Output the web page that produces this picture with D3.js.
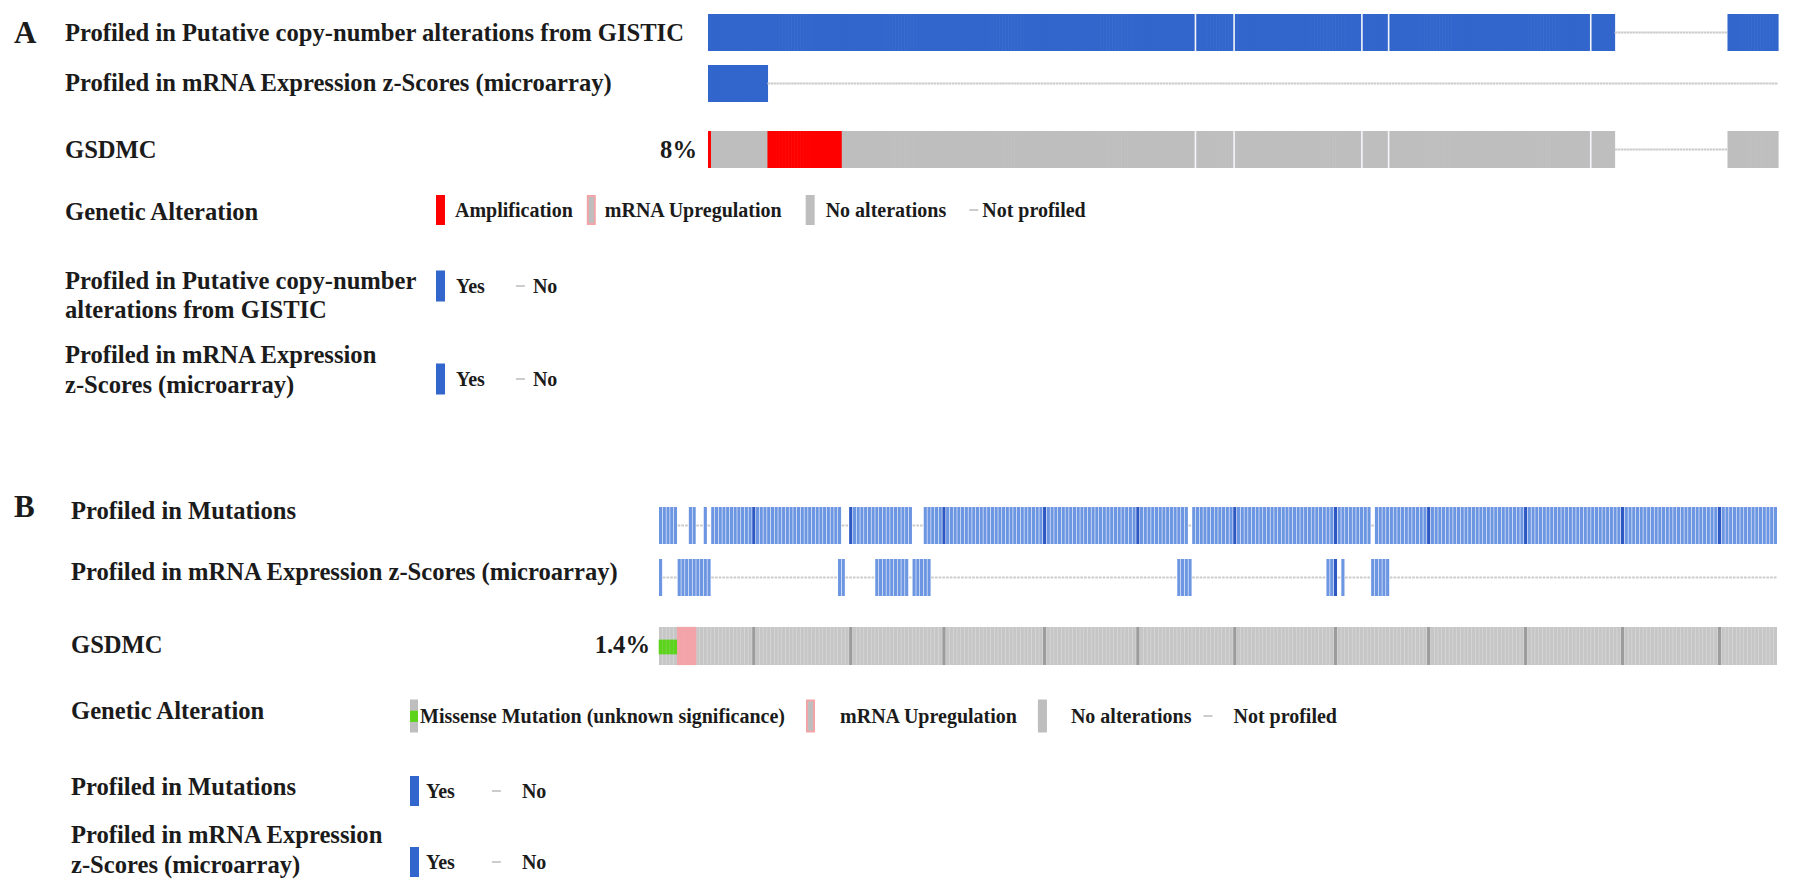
<!DOCTYPE html>
<html lang="en">
  <head>
    <meta charset="utf-8" />
    <title>GSDMC OncoPrint</title>
    <script src="https://d3js.org/d3.v7.min.js"></script>
    <style>
      body { margin: 0; background: #fff; }
      svg text {
        font-family: "Liberation Serif", "Times New Roman", serif;
        font-weight: bold;
        fill: #1b1b1b;
      }
    </style>
  </head>
  <body>
    <svg id="chart" width="1795" height="892"></svg>
    <script>
      // ---- Panel A: samples are columns, runs are inclusive [from, to] index ranges
      const samplesA = 360;
      const cnaProfiledA = [[0, 304], [343, 359]];
      const mrnaProfiledA = [[0, 19]];
      const amplifiedA = [[0, 0], [20, 44]];
      const seamsA = [164, 177, 220, 229, 297];
      const pctA = "8%";

      // ---- Panel B
      const samplesB = 300;
      const mutProfiledB = [[0, 4], [8, 9], [12, 12], [14, 48], [51, 67], [71, 141], [143, 190], [192, 299]];
      const mrnaProfiledB = [[0, 0], [5, 13], [48, 49], [58, 66], [68, 72], [139, 142], [179, 181], [183, 183], [191, 195]];
      const missenseB = [[0, 4]];
      const mrnaUpB = [[5, 9]];
      const seamsB = [25, 51, 76, 103, 128, 154, 181, 206, 232, 258, 284];
      const pctB = "1.4%";

      // ---- Labels and legends
      const gene = "GSDMC";
      const trackLabelsA = [
        "Profiled in Putative copy-number alterations from GISTIC",
        "Profiled in mRNA Expression z-Scores (microarray)",
      ];
      const trackLabelsB = [
        "Profiled in Mutations",
        "Profiled in mRNA Expression z-Scores (microarray)",
      ];
      const alterLegendA = ["Amplification", "mRNA Upregulation", "No alterations", "Not profiled"];
      const alterLegendB = ["Missense Mutation (unknown significance)", "mRNA Upregulation", "No alterations", "Not profiled"];
      const profiledLegendA = [
        ["Profiled in Putative copy-number", "alterations from GISTIC"],
        ["Profiled in mRNA Expression", "z-Scores (microarray)"],
      ];
      const profiledLegendB = [
        ["Profiled in Mutations"],
        ["Profiled in mRNA Expression", "z-Scores (microarray)"],
      ];
      const yesNo = ["Yes", "No"];

      const colors = {
        blue: "#3366cc",
        blueB: "#6d96e2",
        blueDark: "#2d58c4",
        gray: "#bebebe",
        grayB: "#c6c6c6",
        grayGap: "#dddddd",
        grayDark: "#9c9c9c",
        none: "#cccccc",
        red: "#ff0000",
        pink: "#f2a4a8",
        green: "#5cd41c",
      };

      const LABEL = 24.6;
      const LEG = 20;

      const expand = (runs) => new Set(runs.flatMap(([a, b]) => d3.range(a, b + 1)));

      const svg = d3.select("#chart");

      // draws profiled columns as full cells, unprofiled as a thin line
      function drawTrack(g, x, y, h, profiled, fill, dark, darkFill, overlap) {
        const idx = x.domain();
        g.append("g")
          .selectAll("rect")
          .data(idx.filter((i) => profiled.has(i)))
          .join("rect")
          .attr("x", (i) => x(i))
          .attr("y", y)
          .attr("width", x.bandwidth() + overlap)
          .attr("height", h)
          .attr("fill", (i) => (dark.has(i) ? darkFill : fill));
        g.append("g")
          .selectAll("rect")
          .data(idx.filter((i) => !profiled.has(i)))
          .join("rect")
          .attr("x", (i) => x(i))
          .attr("y", y + h / 2 - 1)
          .attr("width", x.bandwidth() * 0.85)
          .attr("height", 2)
          .attr("fill", colors.none);
      }

      // legend swatch painter
      function swatch(g, kind, x, yMid, h) {
        const w = 9;
        const top = yMid - h / 2;
        if (kind === "Amplification") {
          g.append("rect").attr("x", x).attr("y", top).attr("width", w).attr("height", h).attr("fill", colors.red);
        } else if (kind === "mRNA Upregulation") {
          g.append("rect").attr("x", x + 1).attr("y", top + 1).attr("width", w - 2).attr("height", h - 2)
            .attr("fill", colors.gray).attr("stroke", colors.pink).attr("stroke-width", 2);
        } else if (kind === "No alterations") {
          g.append("rect").attr("x", x).attr("y", top).attr("width", w).attr("height", h).attr("fill", colors.gray);
        } else if (kind.startsWith("Missense")) {
          g.append("rect").attr("x", x).attr("y", top).attr("width", w - 1).attr("height", h).attr("fill", colors.gray);
          g.append("rect").attr("x", x).attr("y", top + h * 0.34).attr("width", w - 1).attr("height", h * 0.34).attr("fill", colors.green);
        } else if (kind === "Yes") {
          g.append("rect").attr("x", x).attr("y", top).attr("width", w).attr("height", h).attr("fill", colors.blue);
        } else {
          g.append("rect").attr("x", x).attr("y", yMid - 1).attr("width", w).attr("height", 2).attr("fill", colors.none);
        }
        return w;
      }

      // lays out swatch + text pairs left to right; gaps are per item
      function drawLegend(g, items, x0, yMid, h, gapBar, gapText) {
        let x = x0;
        items.forEach((label, k) => {
          x += swatch(g, label, x, yMid, h) + gapBar[k];
          const t = g.append("text")
            .attr("x", x)
            .attr("y", yMid + LEG * 0.36)
            .style("font-size", LEG + "px")
            .text(label);
          x += t.node().getComputedTextLength() + (gapText[k] || 0);
        });
      }

      function label(g, lines, x, y, size, lineH, anchor) {
        const t = g.append("text")
          .attr("x", x)
          .attr("y", y)
          .attr("text-anchor", anchor || "start")
          .style("font-size", size + "px");
        lines.forEach((line, k) =>
          t.append("tspan").attr("x", x).attr("dy", k === 0 ? 0 : lineH).text(line)
        );
      }

      // ================= Panel A =================
      const gA = svg.append("g");
      const xA = d3.scaleBand().domain(d3.range(samplesA)).range([708, 1778]).padding(0);
      const rowsA = [14, 65, 131];
      const rowH = 37;

      const cnaA = expand(cnaProfiledA);
      const mrnaA = expand(mrnaProfiledA);
      const ampA = expand(amplifiedA);
      const noSeam = new Set();

      drawTrack(gA, xA, rowsA[0], rowH, cnaA, colors.blue, noSeam, colors.blue, 0.6);
      drawTrack(gA, xA, rowsA[1], rowH, mrnaA, colors.blue, noSeam, colors.blue, 0.6);
      drawTrack(gA, xA, rowsA[2], rowH, cnaA, colors.gray, ampA, colors.red, 0.6);

      // thin white seams between column blocks
      [rowsA[0], rowsA[2]].forEach((y) => {
        gA.append("g")
          .selectAll("rect")
          .data(seamsA)
          .join("rect")
          .attr("x", (i) => xA(i) - 0.8)
          .attr("y", y)
          .attr("width", 1.6)
          .attr("height", rowH)
          .attr("fill", "#f4f6fb");
      });

      label(gA, ["A"], 14, 43, 31, 0);
      label(gA, [trackLabelsA[0]], 65, 41, LABEL, 0);
      label(gA, [trackLabelsA[1]], 65, 91, LABEL, 0);
      label(gA, [gene], 65, 158, LABEL, 0);
      label(gA, [pctA], 697, 158, LABEL, 0, "end");

      label(gA, ["Genetic Alteration"], 65, 220, LABEL, 0);
      drawLegend(gA, alterLegendA, 436, 210, 30, [10, 9, 11, 4], [14, 24, 23]);
      label(gA, profiledLegendA[0], 65, 289, LABEL, 29);
      drawLegend(gA, yesNo, 436, 286, 31, [11, 8], [31]);
      label(gA, profiledLegendA[1], 65, 363, LABEL, 30);
      drawLegend(gA, yesNo, 436, 379, 31, [11, 8], [31]);

      // ================= Panel B =================
      const gB = svg.append("g");
      const xB = d3.scaleBand().domain(d3.range(samplesB)).range([659, 1777]).paddingInner(0.16);
      const rowsB = [507, 559, 627];

      const mutB = expand(mutProfiledB);
      const mrnaB = expand(mrnaProfiledB);
      const allB = expand([[0, samplesB - 1]]);
      const darkB = new Set(seamsB);

      drawTrack(gB, xB, rowsB[0], rowH, mutB, colors.blueB, darkB, colors.blueDark, 0);
      drawTrack(gB, xB, rowsB[1], rowH, mrnaB, colors.blueB, darkB, colors.blueDark, 0);

      gB.append("rect")
        .attr("x", xB.range()[0])
        .attr("y", rowsB[2])
        .attr("width", xB.range()[1] - xB.range()[0])
        .attr("height", rowH + 1)
        .attr("fill", colors.grayGap);
      drawTrack(gB, xB, rowsB[2], rowH + 1, allB, colors.grayB, darkB, colors.grayDark, 0);

      gB.append("g")
        .selectAll("rect")
        .data([...expand(missenseB)])
        .join("rect")
        .attr("x", (i) => xB(i))
        .attr("y", rowsB[2] + rowH * 0.35)
        .attr("width", xB.bandwidth())
        .attr("height", rowH * 0.38)
        .attr("fill", colors.green)
        .attr("stroke", colors.green)
        .attr("stroke-width", 0.6);

      gB.append("g")
        .selectAll("rect")
        .data([...expand(mrnaUpB)])
        .join("rect")
        .attr("x", (i) => xB(i))
        .attr("y", rowsB[2] + 0.5)
        .attr("width", xB.bandwidth())
        .attr("height", rowH)
        .attr("fill", colors.pink)
        .attr("stroke", colors.pink)
        .attr("stroke-width", 1.2);

      label(gB, ["B"], 14, 517, 31, 0);
      label(gB, [trackLabelsB[0]], 71, 519, LABEL, 0);
      label(gB, [trackLabelsB[1]], 71, 580, LABEL, 0);
      label(gB, [gene], 71, 653, LABEL, 0);
      label(gB, [pctB], 650, 653, LABEL, 0, "end");

      label(gB, ["Genetic Alteration"], 71, 719, LABEL, 0);
      drawLegend(gB, alterLegendB, 410, 716, 33, [1, 25, 24, 21], [21, 21, 12]);
      label(gB, profiledLegendB[0], 71, 795, LABEL, 0);
      drawLegend(gB, yesNo, 410, 791, 30, [7, 21], [37]);
      label(gB, profiledLegendB[1], 71, 843, LABEL, 30);
      drawLegend(gB, yesNo, 410, 862, 30, [7, 21], [37]);
    </script>
  </body>
</html>
